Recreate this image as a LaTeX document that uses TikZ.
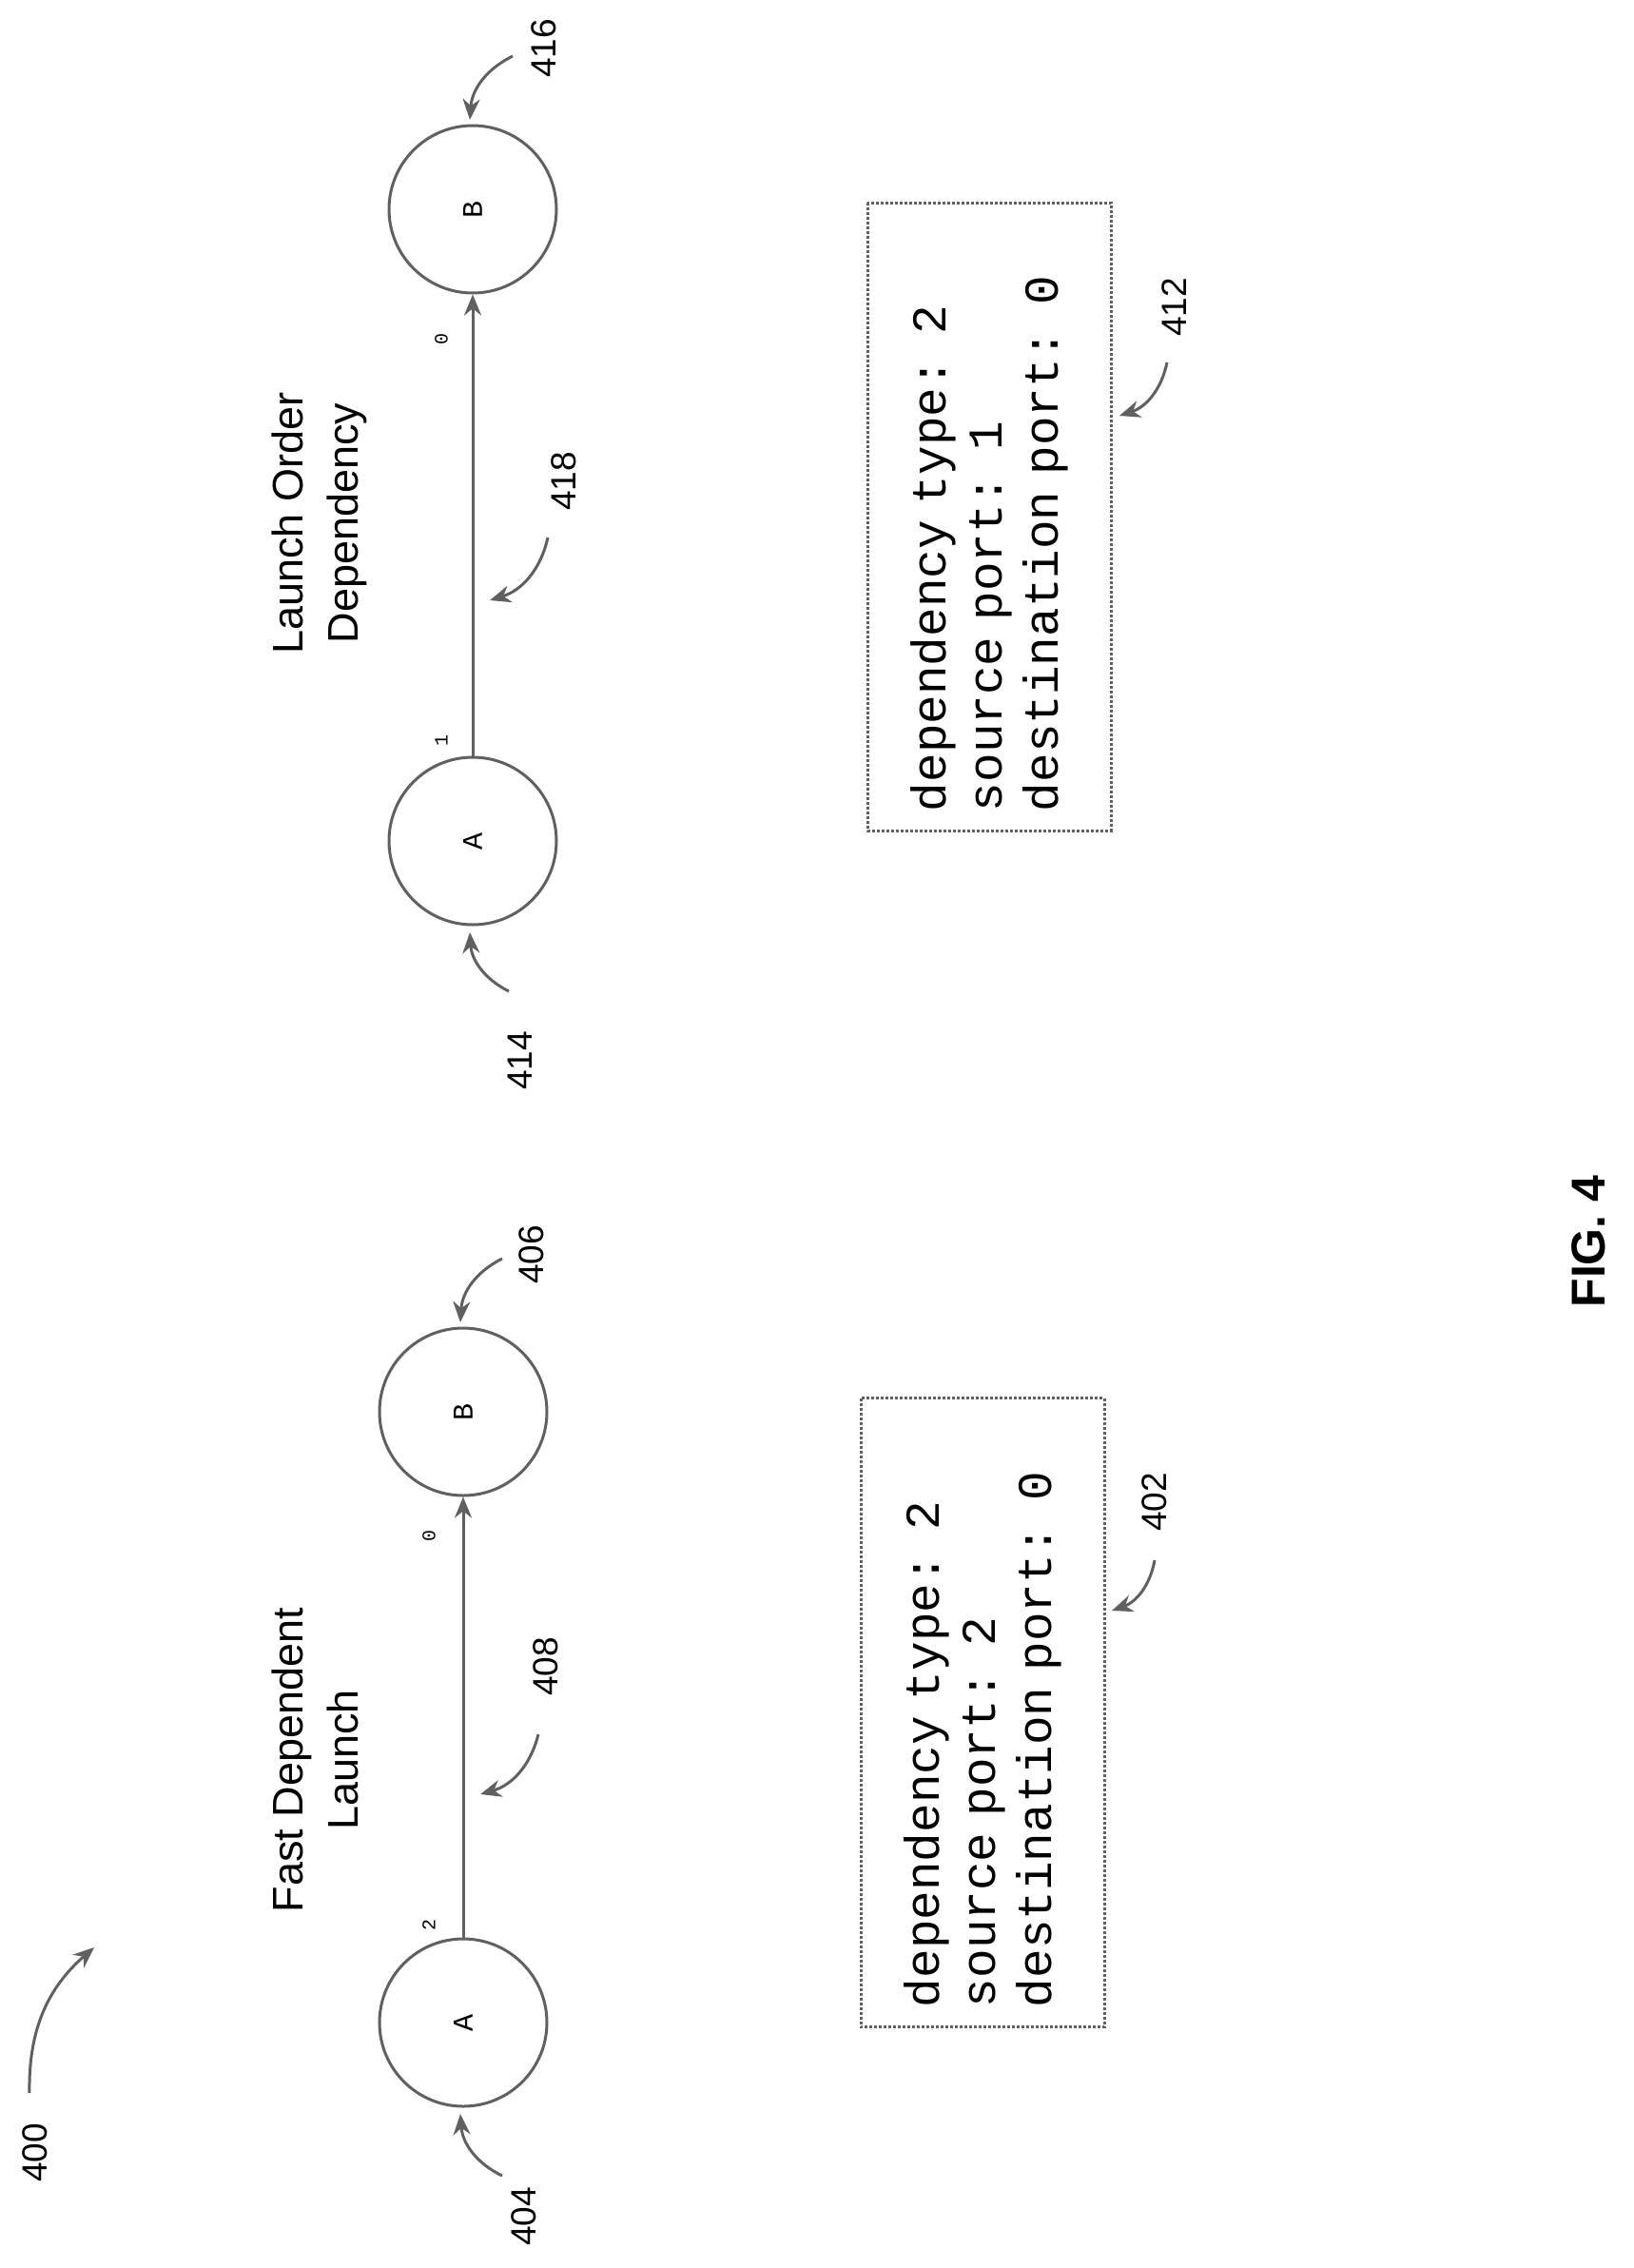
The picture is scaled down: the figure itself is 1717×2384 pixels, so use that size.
\documentclass[tikz,border=0pt]{standalone}
\usepackage{fontspec}
\setsansfont{Liberation Sans}
\setmonofont{Liberation Mono}
\usetikzlibrary{arrows.meta}
\tikzstyle{ink}=[draw=gray!75!black, line width=3pt]
\tikzstyle{stateA}=[ink, circle, minimum size=176pt, inner sep=0pt]
\tikzstyle{stateL}=[rotate=90, font=\ttfamily\fontsize{30}{30}\selectfont]
\tikzstyle{refnum}=[rotate=90, font=\sffamily\fontsize{37}{37}\selectfont]
\tikzstyle{portnum}=[rotate=90, font=\ttfamily\fontsize{20}{20}\selectfont]
\tikzstyle{refarrow}=[ink, -{Stealth[length=22pt,width=18pt]}]
\tikzstyle{infobox}=[ink, dotted, rotate=90, minimum height=256pt, align=left, font=\ttfamily\fontsize{51}{59}\selectfont]
\begin{document}
\begin{tikzpicture}[x=1pt,y=-1pt]
	\useasboundingbox (0,0) rectangle (1717,2384);
	% left: fast dependent launch
	\node[refnum] (n400) at (37,2263) {400};
	\coordinate (t400) at (99,2047);
	\draw[refarrow] (31,2200) to[bend left=25] (t400);
	\node[stateA] (fA) at (487,2126) {};
	\node[stateA] (fB) at (487,1484) {};
	\node[stateL] at (fA) {A};
	\node[stateL] at (fB) {B};
	\draw[ink, -{Stealth[length=22pt,width=18pt]}] (fA) -- (fB);
	\node[portnum] (fsrc) at (451,2023) {2};
	\node[portnum] (fdst) at (451,1614) {0};
	\node[rotate=90, align=center, font=\sffamily\fontsize{45}{58}\selectfont] (ftitle) at (331,1850) {Fast Dependent\\Launch};
	\node[refnum] (n408) at (574,1752) {408};
	\node[refnum] (n404) at (551,2330) {404};
	\node[refnum] (n406) at (559,1319) {406};
	\coordinate (t408) at (505,1886);
	\coordinate (t404) at (484,2222);
	\coordinate (t406) at (484,1390);
	\draw[refarrow] (566,1823) to[bend left=30] (t408);
	\draw[refarrow] (528,2287) to[bend left=30] (t404);
	\draw[refarrow] (528,1323) to[bend right=30] (t406);
	\node[infobox, minimum width=661pt, text width=620pt] (fbox) at (1033,1800) {dependency type: 2\\source port: 2\\destination port: 0};
	\node[refnum] (n402) at (1214,1579) {402};
	\coordinate (t402) at (1169,1693);
	\draw[refarrow] (1214,1640) to[bend left=30] (t402);
	% right: launch order dependency
	\node[stateA] (lA) at (497,884) {};
	\node[stateA] (lB) at (497,220) {};
	\node[stateL] at (lA) {A};
	\node[stateL] at (lB) {B};
	\draw[ink, -{Stealth[length=22pt,width=18pt]}] (lA) -- (lB);
	\node[portnum] (lsrc) at (464,778) {1};
	\node[portnum] (ldst) at (464,356) {0};
	\node[rotate=90, align=center, font=\sffamily\fontsize{45}{58}\selectfont] (ltitle) at (336,550) {Launch Order\\Dependency};
	\node[refnum] (n418) at (593,506) {418};
	\node[refnum] (n414) at (547,1115) {414};
	\node[refnum] (n416) at (572,51) {416};
	\coordinate (t418) at (515,631);
	\coordinate (t414) at (494,980);
	\coordinate (t416) at (494,126);
	\draw[refarrow] (576,565) to[bend left=30] (t418);
	\draw[refarrow] (535,1042) to[bend left=30] (t414);
	\draw[refarrow] (539,59) to[bend right=30] (t416);
	\node[infobox, minimum width=660pt, text width=620pt] (lbox) at (1040,543) {dependency type: 2\\source port: 1\\destination port: 0};
	\node[refnum] (n412) at (1235,323) {412};
	\coordinate (t412) at (1177,437);
	\draw[refarrow] (1227,381) to[bend left=30] (t412);
	\node[rotate=90, font=\sffamily\bfseries\fontsize{50}{50}\selectfont] (fig) at (1670,1305) {FIG. 4};
\end{tikzpicture}
\end{document}
